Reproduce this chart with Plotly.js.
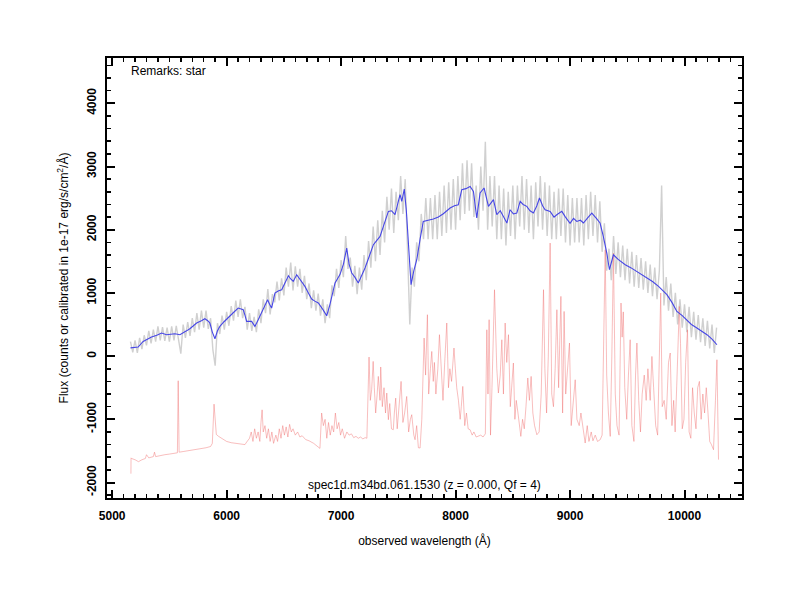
<!DOCTYPE html>
<html>
<head>
<meta charset="utf-8">
<script src="https://cdn.plot.ly/plotly-3.0.1.min.js"></script>
<style>html,body{margin:0;padding:0;background:#fff}#plot{width:800px;height:600px}</style>
</head>
<body>
<div id="plot"></div>
<script>
// ---- data ----
// raw spectrum (gray), sampled every 20 Å starting at 5160 Å
const grayStart = 5160;
const grayStep = 20;
const grayFlux = [
 230,60,250,50,290,110,330,170,400,200,420,230,470,250,460,240,450,230,470,250,480,230,
 40,500,290,540,320,600,380,680,420,720,450,720,430,600,100,-150,520,350,640,420,700,480,
 790,560,880,620,900,600,780,420,680,400,620,380,740,520,900,680,1060,660,980,850,1180,880,
 1230,960,1400,1100,1480,1040,1420,1100,1380,1000,1270,900,1150,760,1040,720,990,640,900,520,
 820,600,1120,950,1380,1080,1520,1250,1900,1380,1560,1100,1430,980,1400,1050,1600,1200,1820,1400,
 2050,1500,2150,1600,2300,1800,2520,2000,2650,1950,2600,2150,2850,2250,2800,1700,500,1400,1100,1800,
 1500,2250,1850,2500,1850,2500,1850,2550,1850,2600,1900,2700,1950,2750,2000,2800,2000,2850,2150,3050,
 2250,3100,2300,3050,2200,2700,2000,3000,2300,3390,2000,2850,2050,2850,1850,2700,1850,2650,1750,2600,
 1900,2700,1850,2700,2050,2850,2000,2800,1950,2700,1850,2750,2050,2850,2000,2750,1900,2700,1850,2600,
 1850,2650,1900,2650,1800,2550,1750,2500,1800,2500,1800,2500,1750,2550,1850,2600,1900,2550,1800,2450,
 1650,2100,1350,1700,1200,1900,1300,1800,1250,1750,1200,1700,1150,1650,1100,1600,1080,1550,1050,1500,
 1000,1450,950,1400,900,1350,2700,800,1250,720,1150,620,1000,500,900,450,820,380,780,300,
 700,260,650,220,600,160,560,120,500,50,450
];

// smoothed spectrum (blue)
const blueWave = [5160,5200,5227,5271,5300,5344,5390,5432,5475,5510,5548,5592,5620,5650,5679,5738,5780,5810,5835,5854,
 5875,5898,5920,5941,5975,6014,6060,6101,6145,6160,6175,6218,6247,6275,6306,6330,6358,6375,6393,6422,
 6450,6481,6510,6540,6560,6582,6612,6650,6684,6720,6743,6770,6801,6840,6874,6900,6947,6990,7020,7049,
 7070,7093,7120,7150,7180,7209,7250,7282,7340,7380,7413,7440,7471,7500,7515,7530,7552,7570,7590,7611,
 7635,7661,7690,7718,7760,7806,7850,7893,7952,7990,8024,8054,8090,8127,8156,8185,8214,8249,8287,8331,
 8360,8390,8418,8448,8476,8505,8535,8564,8590,8622,8650,8680,8710,8733,8760,8782,8826,8860,8884,8928,
 8960,9000,9030,9059,9090,9117,9150,9190,9230,9262,9290,9321,9344,9379,9420,9482,9530,9584,9630,9671,
 9720,9773,9810,9846,9890,9933,9980,10021,10060,10108,10150,10196,10240,10283];
const blueFlux = [130,140,144,233,260,302,330,365,339,345,354,339,375,400,434,524,560,592,560,524,
 380,275,400,470,540,603,690,761,734,650,549,549,470,570,682,790,892,820,761,998,
 1030,1051,1160,1272,1220,1182,1288,1190,1103,980,903,870,840,740,639,800,1157,1290,1450,1710,
 1450,1315,1250,1157,1280,1394,1600,1763,1894,2100,2290,2300,2237,2450,2554,2448,2644,2300,1700,1130,
 1350,1525,1850,2131,2150,2169,2200,2253,2343,2380,2396,2633,2650,2685,2606,2185,2581,2660,2369,2475,
 2237,2300,2210,2106,2316,2250,2264,2448,2400,2369,2300,2264,2380,2502,2380,2316,2290,2200,2237,2290,
 2200,2100,2180,2131,2150,2106,2180,2264,2180,2106,1900,1631,1367,1604,1530,1446,1400,1340,1290,1236,
 1180,1103,1040,972,850,707,640,576,500,445,400,339,270,180];

// sky / noise spectrum (red)
const redWave = [5164,5165,5170,5200,5230,5260,5290,5300,5320,5360,5370,5380,5420,5460,5500,5540,5570,5577,5585,
 5620,5660,5700,5740,5780,5820,5860,5875,5890,5900,5910,5930,5960,6000,6040,6080,6120,6160,6175,6200,
 6215,6230,6245,6260,6275,6290,6300,6310,6320,6335,6350,6365,6380,6395,6410,6430,6445,6460,6475,6490,
 6505,6520,6535,6550,6565,6580,6600,6620,6640,6660,6690,6720,6760,6800,6815,6830,6845,6860,6875,6890,
 6905,6920,6935,6950,6965,6980,6995,7010,7030,7050,7070,7090,7110,7130,7150,7170,7190,7210,7225,7244,
 7255,7267,7280,7290,7302,7315,7325,7340,7346,7360,7375,7388,7399,7413,7425,7440,7456,7465,7477,7490,
 7505,7524,7540,7555,7573,7590,7605,7617,7635,7646,7660,7675,7690,7705,7725,7738,7754,7765,7780,7792,
 7805,7815,7828,7845,7859,7875,7890,7905,7923,7938,7950,7965,7986,7998,8010,8025,8040,8050,8063,8080,
 8095,8110,8127,8145,8160,8180,8200,8220,8240,8260,8273,8283,8293,8305,8318,8340,8360,8374,8390,8404,
 8418,8433,8447,8462,8478,8490,8505,8518,8530,8545,8558,8570,8585,8600,8615,8631,8645,8660,8675,8690,
 8710,8730,8748,8768,8780,8795,8810,8826,8840,8855,8870,8885,8900,8920,8935,8948,8962,8978,8995,9010,
 9025,9045,9060,9080,9095,9110,9132,9150,9165,9185,9200,9220,9240,9263,9280,9307,9320,9335,9351,9365,
 9379,9395,9410,9428,9445,9455,9465,9478,9495,9510,9525,9540,9558,9572,9584,9600,9615,9630,9648,9665,
 9680,9700,9715,9730,9748,9765,9792,9805,9822,9840,9860,9875,9890,9905,9918,9935,9954,9965,9980,9995,
 10010,10026,10040,10055,10070,10085,10100,10115,10130,10145,10160,10175,10190,10205,10220,10235,10253,10270,10283,10297];
const redFlux = [-1860,-1610,-1620,-1640,-1670,-1640,-1620,-1560,-1610,-1590,-1520,-1590,-1570,-1560,-1550,-1540,-1530,-390,-1520,
 -1510,-1500,-1490,-1470,-1460,-1450,-1430,-1380,-760,-1000,-1240,-1270,-1310,-1350,-1370,-1380,-1400,-1400,-1360,-1300,
 -1200,-1350,-1150,-1300,-1200,-1350,-1050,-850,-1200,-1100,-1300,-1150,-1350,-1200,-1380,-1250,-1350,-1150,-1300,-1100,
 -1250,-1120,-1280,-1080,-1200,-1150,-1250,-1200,-1280,-1260,-1320,-1340,-1380,-1430,-1460,-900,-1100,-1000,-1300,-1050,
 -1250,-1100,-1200,-900,-1150,-1050,-1250,-1150,-1300,-1200,-1250,-1230,-1290,-1270,-1300,-1280,-1310,-1290,-1300,-15,
 -700,-532,-84,-500,-900,-600,-321,-700,-172,-800,-500,-900,-584,-1006,-750,-1150,-1165,-900,-664,-1150,
 -850,-400,-1050,-900,-638,-1200,-1000,-927,-1250,-1323,-1100,-1450,-1454,-1000,286,-300,655,-600,-200,74,
 -400,-100,-600,-200,339,-300,-700,-100,524,-500,-200,-400,128,-200,-500,-700,-1000,-800,-479,-1100,
 -900,-1150,-1165,-1250,-1200,-1280,-1270,-1250,-1280,-1230,417,-600,576,-1250,-500,1050,-200,-584,-300,259,
 -600,524,-100,339,-800,-500,-109,-1000,-700,-900,-1150,-1270,-1000,-1150,-800,-346,-700,-321,-900,-1100,
 -1244,-1200,-600,1051,-200,-900,0,1789,-600,-800,-200,734,-500,945,-900,707,-600,-200,207,-1100,
 -800,-374,-1000,-1100,-900,-1100,-1375,-1100,-1350,-1200,-1340,-1250,-1350,-1323,-1250,1683,-300,-900,-1270,0,
 1631,-600,-1100,-1250,840,300,700,-500,-1000,-300,259,-1100,-1350,-300,207,-700,-1200,-600,-300,-700,
 -200,-700,-5,-500,-1100,-1250,998,-800,-700,-1000,-100,49,-1100,-700,-1200,-300,786,200,-1150,-1000,
 -100,417,-1200,-1300,-500,-900,-1150,-500,-400,-1000,-600,-900,-500,-900,-1350,-1400,-1481,-700,-57,-1638];

const xTickVals = [5000, 6000, 7000, 8000, 9000, 10000];
const yTickVals = [-2000, -1000, 0, 1000, 2000, 3000, 4000];
const remarkText = 'Remarks: star';
const specText = 'spec1d.m34bd.061.1530 (z = 0.000, Qf = 4)';

const traces = [
  {type:'scatter', mode:'lines', x0:grayStart, dx:grayStep, y:grayFlux,
   line:{color:'rgb(200,200,200)', width:1.4}, opacity:0.85, hoverinfo:'skip'},
  {type:'scatter', mode:'lines', x:redWave, y:redFlux,
   line:{color:'rgb(240,110,110)', width:0.6}, opacity:0.75, hoverinfo:'skip'},
  {type:'scatter', mode:'lines', x:blueWave, y:blueFlux,
   line:{color:'rgb(70,70,230)', width:1.1}, hoverinfo:'skip'}
];

const axisCommon = {
  showgrid:false, zeroline:false, showline:true, linecolor:'black', linewidth:2,
  mirror:'allticks', ticks:'inside', ticklen:8, tickwidth:2, tickcolor:'black',
  tickfont:{family:'Liberation Sans, Arial, sans-serif', size:12, color:'black', weight:'bold'},
};

const layout = {
  width:800, height:600,
  paper_bgcolor:'white', plot_bgcolor:'white',
  showlegend:false,
  margin:{l:107, r:58, t:58, b:102},
  font:{family:'Liberation Sans, Arial, sans-serif', size:12, color:'black'},
  xaxis: Object.assign({}, axisCommon, {
    range:[4955, 10502], tickmode:'array', tickvals:xTickVals,
    ticktext:xTickVals.map(String), ticklabelstandoff:6,
    minor:{dtick:100, ticks:'inside', ticklen:4, tickwidth:1.5, tickcolor:'black', showgrid:false},
    title:{text:'observed wavelength (Å)', font:{size:12}, standoff:14}
  }),
  yaxis: Object.assign({}, axisCommon, {
    range:[-2245, 4717], tickmode:'array', tickvals:yTickVals,
    ticktext:yTickVals.map(String), tickangle:-90, ticklabelstandoff:4,
    minor:{dtick:200, ticks:'inside', ticklen:4, tickwidth:1.5, tickcolor:'black', showgrid:false},
    title:{text:'Flux (counts or calibrated in 1e-17 erg/s/cm<sup>2</sup>/Å)', font:{size:12}, standoff:14}
  }),
  annotations:[
    {text:remarkText, xref:'paper', yref:'paper', x:0.035, y:0.97, xanchor:'left', yanchor:'middle',
     showarrow:false, font:{size:12}},
    {text:specText, xref:'paper', yref:'paper', x:0.5, y:0.03, xanchor:'center', yanchor:'middle',
     showarrow:false, font:{size:12}}
  ]
};

Plotly.newPlot('plot', traces, layout, {staticPlot:true, displayModeBar:false});
</script>
</body>
</html>
